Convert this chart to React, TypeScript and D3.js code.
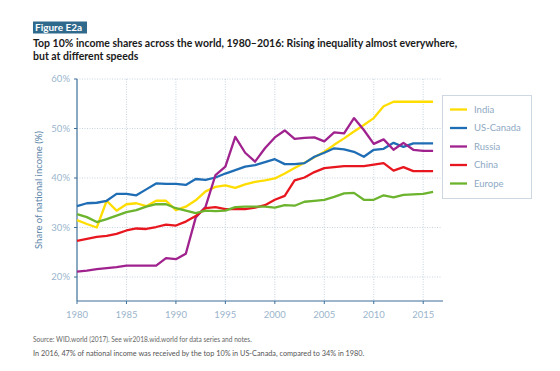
import React from "react";
import * as d3 from "d3";

const years = d3.range(1980, 2017);

const india = [31.5, 30.7, 30.0, 35.4, 33.4, 34.7, 34.9, 34.3, 35.4, 35.4, 33.5, 34.2, 35.5, 37.3, 38.2, 38.5, 38.0, 38.7, 39.2, 39.5, 39.9, 40.9, 42.0, 43.1, 44.2, 45.3, 46.7, 48.0, 49.4, 50.7, 52.1, 54.5, 55.4, 55.4, 55.4, 55.4, 55.4];
const usCanada = [34.3, 34.9, 35.0, 35.4, 36.8, 36.8, 36.5, 37.7, 38.9, 38.8, 38.8, 38.6, 39.8, 39.6, 40.1, 40.9, 41.6, 42.3, 42.6, 43.2, 43.8, 42.8, 42.8, 43.0, 44.3, 45.1, 46.0, 45.8, 45.3, 44.3, 45.7, 45.9, 47.1, 46.3, 47.0, 47.0, 47.0];
const russia = [21.1, 21.3, 21.6, 21.8, 22.0, 22.3, 22.3, 22.3, 22.3, 23.8, 23.6, 24.7, 32.0, 34.2, 40.6, 42.3, 48.3, 45.1, 43.3, 46.0, 48.2, 49.6, 47.9, 48.1, 48.2, 47.4, 49.2, 49.0, 52.1, 49.7, 46.9, 47.8, 45.7, 47.1, 45.7, 45.5, 45.5];
const china = [27.3, 27.7, 28.1, 28.3, 28.7, 29.4, 29.8, 29.7, 30.1, 30.6, 30.4, 31.2, 32.3, 33.9, 34.1, 33.7, 33.7, 33.7, 34.0, 34.5, 35.6, 36.4, 39.5, 40.1, 41.2, 42.0, 42.2, 42.4, 42.4, 42.4, 42.7, 43.0, 41.5, 42.2, 41.4, 41.4, 41.4];
const europe = [32.7, 32.1, 31.1, 31.7, 32.4, 33.1, 33.5, 34.2, 34.7, 34.7, 33.9, 33.4, 32.9, 33.4, 33.3, 33.4, 34.1, 34.2, 34.2, 34.2, 34.0, 34.5, 34.4, 35.2, 35.4, 35.6, 36.2, 36.9, 37.0, 35.6, 35.6, 36.5, 36.1, 36.6, 36.7, 36.8, 37.2];

const seriesNames = ["India", "US-Canada", "Russia", "China", "Europe"];
const seriesValues = [india, usCanada, russia, china, europe];
const seriesColors = ["#ffdd00", "#1f6db4", "#a0228e", "#e8161e", "#6cb32e"];

const xTicks = [1980, 1985, 1990, 1995, 2000, 2005, 2010, 2015];
const yTicks = [20, 30, 40, 50, 60];

const font = "Lato, 'Open Sans', sans-serif";

export default function App() {
  const x = d3.scaleLinear().domain([1980, 2015]).range([77, 423.2]);
  const y = d3.scaleLinear().domain([20, 60]).range([277, 79]);
  const line = d3
    .line<number>()
    .x((_, i) => x(years[i]))
    .y((d) => y(d));

  const axisColor = "#3d6f98";
  const tickColor = "#9bb5cd";
  const gridColor = "#b9c9d8";

  return (
    <svg width={560} height={371} style={{ position: "absolute", left: 0, top: 0, background: "#fff" }} fontFamily={font}>
      {/* header */}
      <rect x={33} y={21.5} width={54} height={12} fill="#2f6a8d" />
      <text x={35} y={31.2} fontSize={10} fontWeight="bold" fill="#fff">Figure E2a</text>
      <text x={33} y={47} fontSize={10.5} fontWeight="bold" fill="#1a1a1a">
        Top 10% income shares across the world, 1980–2016: Rising inequality almost everywhere,
      </text>
      <text x={33} y={60} fontSize={10.5} fontWeight="bold" fill="#1a1a1a">but at different speeds</text>

      {/* grid */}
      {yTicks.map((t) => (
        <line key={"gy" + t} x1={77} x2={441} y1={y(t)} y2={y(t)} stroke={gridColor} strokeWidth={0.8} strokeDasharray="1,1.5" />
      ))}
      {xTicks.slice(1).map((t) => (
        <line key={"gx" + t} x1={x(t)} x2={x(t)} y1={79} y2={301} stroke={gridColor} strokeWidth={0.8} strokeDasharray="1,1.5" />
      ))}

      {/* axes */}
      <line x1={77} x2={77} y1={79} y2={301} stroke={axisColor} strokeWidth={1.2} />
      <line x1={77} x2={443} y1={301} y2={301} stroke={axisColor} strokeWidth={1.2} />
      {yTicks.map((t) => (
        <g key={"ty" + t}>
          <line x1={74} x2={77} y1={y(t)} y2={y(t)} stroke={axisColor} strokeWidth={1} />
          <text x={70} y={y(t) + 3.3} fontSize={9.5} fill={tickColor} textAnchor="end">{t}%</text>
        </g>
      ))}
      {xTicks.map((t) => (
        <g key={"tx" + t}>
          <line x1={x(t)} x2={x(t)} y1={301} y2={304} stroke={axisColor} strokeWidth={1} />
          <text x={x(t)} y={318} fontSize={9.5} fill={tickColor} textAnchor="middle">{t}</text>
        </g>
      ))}
      <text transform="translate(42,190) rotate(-90)" fontSize={9.5} fill="#5a84a8" textAnchor="middle">
        Share of national income (%)
      </text>

      {/* series */}
      {seriesValues.map((vals, k) => (
        <path key={seriesNames[k]} d={line(vals) || ""} fill="none" stroke={seriesColors[k]} strokeWidth={2.3} strokeLinejoin="round" />
      ))}

      {/* legend */}
      <rect x={442.5} y={95.5} width={89} height={103} fill="#fff" stroke="#cdd8e3" strokeWidth={1} />
      {seriesNames.map((n, k) => (
        <g key={"lg" + n} transform={`translate(0,${109.5 + k * 18.5})`}>
          <line x1={450} x2={467} y1={0} y2={0} stroke={seriesColors[k]} strokeWidth={2.3} />
          <text x={474} y={3.3} fontSize={9.5} fill="#8ea9c3">{n}</text>
        </g>
      ))}

      {/* footer */}
      <text x={33} y={341.5} fontSize={6.6} fill="#666">Source: WID.world (2017). See wir2018.wid.world for data series and notes.</text>
      <text x={33} y={355.5} fontSize={7.3} fill="#555">
        In 2016, 47% of national income was received by the top 10% in US-Canada, compared to 34% in 1980.
      </text>
    </svg>
  );
}
